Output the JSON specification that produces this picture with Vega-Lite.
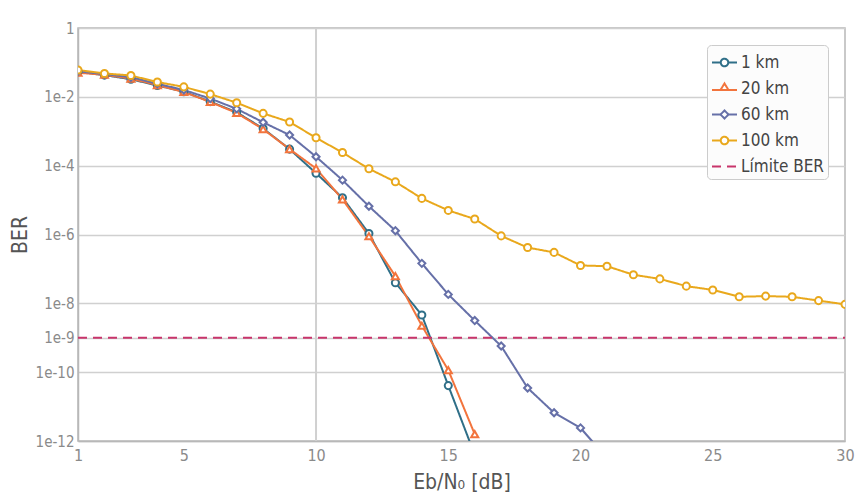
{
  "$schema": "https://vega.github.io/schema/vega-lite/v6.json",
  "width": 767,
  "height": 413,
  "autosize": {"type": "none"},
  "padding": {"left": 78, "top": 28, "right": 19, "bottom": 63},
  "background": "white",
  "config": {
    "font": "DejaVu Sans Condensed, Liberation Sans Narrow, sans-serif",
    "view": {"stroke": "#b8b8b8", "strokeWidth": 1.5},
    "axis": {
      "labelFont": "DejaVu Sans Condensed, Liberation Sans Narrow, sans-serif",
      "titleFont": "DejaVu Sans Condensed, Liberation Sans Narrow, sans-serif",
      "labelColor": "#8a8a8a",
      "titleColor": "#555555",
      "titleFontWeight": "normal",
      "domainColor": "#b8b8b8",
      "domainWidth": 1.5,
      "gridColor": "#d0d0d0",
      "gridWidth": 1.5,
      "ticks": false
    },
    "legend": {
      "labelFont": "DejaVu Sans Condensed, Liberation Sans Narrow, sans-serif"
    }
  },
  "data": {
    "values": [
      {"series": "1 km", "x": 1, "ber": 0.0537},
      {"series": "1 km", "x": 2, "ber": 0.0427},
      {"series": "1 km", "x": 3, "ber": 0.0324},
      {"series": "1 km", "x": 4, "ber": 0.0214},
      {"series": "1 km", "x": 5, "ber": 0.0141},
      {"series": "1 km", "x": 6, "ber": 0.00724},
      {"series": "1 km", "x": 7, "ber": 0.00355},
      {"series": "1 km", "x": 8, "ber": 0.0012},
      {"series": "1 km", "x": 9, "ber": 0.000302},
      {"series": "1 km", "x": 10, "ber": 6.03e-5},
      {"series": "1 km", "x": 11, "ber": 1.17e-5},
      {"series": "1 km", "x": 12, "ber": 1.07e-6},
      {"series": "1 km", "x": 13, "ber": 3.98e-8},
      {"series": "1 km", "x": 14, "ber": 4.57e-9},
      {"series": "1 km", "x": 15, "ber": 4.07e-11},
      {"series": "1 km", "x": 16, "ber": 3.98e-13},
      {"series": "20 km", "x": 1, "ber": 0.0501},
      {"series": "20 km", "x": 2, "ber": 0.0437},
      {"series": "20 km", "x": 3, "ber": 0.0339},
      {"series": "20 km", "x": 4, "ber": 0.0219},
      {"series": "20 km", "x": 5, "ber": 0.0138},
      {"series": "20 km", "x": 6, "ber": 0.00708},
      {"series": "20 km", "x": 7, "ber": 0.00339},
      {"series": "20 km", "x": 8, "ber": 0.00115},
      {"series": "20 km", "x": 9, "ber": 0.000302},
      {"series": "20 km", "x": 10, "ber": 8.32e-5},
      {"series": "20 km", "x": 11, "ber": 1.05e-5},
      {"series": "20 km", "x": 12, "ber": 8.91e-7},
      {"series": "20 km", "x": 13, "ber": 6.17e-8},
      {"series": "20 km", "x": 14, "ber": 2.24e-9},
      {"series": "20 km", "x": 15, "ber": 1.15e-10},
      {"series": "20 km", "x": 16, "ber": 1.58e-12},
      {"series": "60 km", "x": 1, "ber": 0.055},
      {"series": "60 km", "x": 2, "ber": 0.0457},
      {"series": "60 km", "x": 3, "ber": 0.0372},
      {"series": "60 km", "x": 4, "ber": 0.024},
      {"series": "60 km", "x": 5, "ber": 0.0158},
      {"series": "60 km", "x": 6, "ber": 0.00891},
      {"series": "60 km", "x": 7, "ber": 0.00447},
      {"series": "60 km", "x": 8, "ber": 0.00182},
      {"series": "60 km", "x": 9, "ber": 0.000776},
      {"series": "60 km", "x": 10, "ber": 0.000182},
      {"series": "60 km", "x": 11, "ber": 3.8e-5},
      {"series": "60 km", "x": 12, "ber": 6.61e-6},
      {"series": "60 km", "x": 13, "ber": 1.29e-6},
      {"series": "60 km", "x": 14, "ber": 1.45e-7},
      {"series": "60 km", "x": 15, "ber": 1.82e-8},
      {"series": "60 km", "x": 16, "ber": 3.16e-9},
      {"series": "60 km", "x": 17, "ber": 5.75e-10},
      {"series": "60 km", "x": 18, "ber": 3.47e-11},
      {"series": "60 km", "x": 19, "ber": 6.61e-12},
      {"series": "60 km", "x": 20, "ber": 2.4e-12},
      {"series": "60 km", "x": 21, "ber": 3.16e-13},
      {"series": "100 km", "x": 1, "ber": 0.0603},
      {"series": "100 km", "x": 2, "ber": 0.0479},
      {"series": "100 km", "x": 3, "ber": 0.0417},
      {"series": "100 km", "x": 4, "ber": 0.0269},
      {"series": "100 km", "x": 5, "ber": 0.0195},
      {"series": "100 km", "x": 6, "ber": 0.012},
      {"series": "100 km", "x": 7, "ber": 0.00676},
      {"series": "100 km", "x": 8, "ber": 0.00331},
      {"series": "100 km", "x": 9, "ber": 0.00186},
      {"series": "100 km", "x": 10, "ber": 0.000646},
      {"series": "100 km", "x": 11, "ber": 0.00024},
      {"series": "100 km", "x": 12, "ber": 8.13e-5},
      {"series": "100 km", "x": 13, "ber": 3.39e-5},
      {"series": "100 km", "x": 14, "ber": 1.12e-5},
      {"series": "100 km", "x": 15, "ber": 5.01e-6},
      {"series": "100 km", "x": 16, "ber": 2.82e-6},
      {"series": "100 km", "x": 17, "ber": 9.12e-7},
      {"series": "100 km", "x": 18, "ber": 4.17e-7},
      {"series": "100 km", "x": 19, "ber": 3.02e-7},
      {"series": "100 km", "x": 20, "ber": 1.26e-7},
      {"series": "100 km", "x": 21, "ber": 1.2e-7},
      {"series": "100 km", "x": 22, "ber": 6.76e-8},
      {"series": "100 km", "x": 23, "ber": 5.13e-8},
      {"series": "100 km", "x": 24, "ber": 3.16e-8},
      {"series": "100 km", "x": 25, "ber": 2.45e-8},
      {"series": "100 km", "x": 26, "ber": 1.55e-8},
      {"series": "100 km", "x": 27, "ber": 1.62e-8},
      {"series": "100 km", "x": 28, "ber": 1.55e-8},
      {"series": "100 km", "x": 29, "ber": 1.2e-8},
      {"series": "100 km", "x": 30, "ber": 9.33e-9},
      {"series": "Límite BER", "x": 1, "ber": 1e-9},
      {"series": "Límite BER", "x": 30, "ber": 1e-9}
    ]
  },
  "layer": [
    {
      "data": {"values": [{"x": 10}]},
      "mark": {"type": "rule", "color": "#d0d0d0", "strokeWidth": 2},
      "encoding": {
        "x": {"field": "x", "type": "quantitative", "scale": {"domain": [1, 30]}}
      }
    },
    {
      "mark": {"type": "line", "strokeWidth": 2, "clip": true},
      "encoding": {
        "x": {
          "field": "x", "type": "quantitative",
          "scale": {"domain": [1, 30], "nice": false},
          "axis": {
            "values": [1, 5, 10, 15, 20, 25, 30],
            "grid": false,
            "title": "Eb/N₀ [dB]",
            "titleFontSize": 21,
            "titlePadding": 8,
            "labelFontSize": 16,
            "labelPadding": 6,
            "labelFlush": false
          }
        },
        "y": {
          "field": "ber", "type": "quantitative",
          "scale": {"type": "log", "domain": [1e-12, 1], "nice": false},
          "axis": {
            "values": [1, 0.01, 0.0001, 1e-6, 1e-8, 1e-9, 1e-10, 1e-12],
            "labelExpr": "datum.value >= 0.5 ? '1' : '1e' + round(log(datum.value) / LN10)",
            "title": "BER",
            "titleFontSize": 21,
            "titlePadding": 5,
            "labelFontSize": 15,
            "labelPadding": 4,
            "grid": true
          }
        },
        "color": {
          "field": "series", "type": "nominal",
          "sort": ["1 km", "20 km", "60 km", "100 km", "Límite BER"],
          "scale": {
            "domain": ["1 km", "20 km", "60 km", "100 km", "Límite BER"],
            "range": ["#2f6f88", "#f2743d", "#6670a8", "#e9a81c", "#c8356b"]
          },
          "legend": {
            "title": null,
            "orient": "top-right",
            "offset": 17,
            "fillColor": "#fcfcfc",
            "strokeColor": "#cccccc",
            "cornerRadius": 4,
            "padding": 4,
            "rowPadding": 4,
            "symbolSize": 625,
            "symbolStrokeWidth": 2,
            "labelFontSize": 17,
            "labelColor": "#444444",
            "labelOffset": 3,
            "encode": {
              "symbols": {
                "update": {
                  "shape": {"signal": "datum.value == '20 km' ? 'M-1,0.12H1M-0.32,0.12L0,-0.4L0.32,0.12Z' : datum.value == '60 km' ? 'M-1,0H-0.32M0.32,0H1M-0.32,0L0,-0.32L0.32,0L0,0.32Z' : datum.value == 'Límite BER' ? 'M-1,0H1' : 'M-1,0H-0.3M0.3,0H1M-0.3,0A0.3,0.3,0,1,1,0.3,0A0.3,0.3,0,1,1,-0.3,0Z'"},
                  "strokeDash": {"signal": "datum.value == 'Límite BER' ? [5, 4] : [1, 0]"},
                  "fill": {"value": "white"},
                  "strokeWidth": {"value": 2}
                }
              }
            }
          }
        },
        "strokeDash": {
          "field": "series", "type": "nominal",
          "scale": {
            "domain": ["1 km", "20 km", "60 km", "100 km", "Límite BER"],
            "range": [[1, 0], [1, 0], [1, 0], [1, 0], [9, 6]]
          },
          "legend": null
        },
        "order": {"field": "x", "type": "quantitative"}
      }
    },
    {
      "transform": [{"filter": "datum.series != 'Límite BER'"}],
      "mark": {"type": "point", "filled": false, "fill": "white", "fillOpacity": 1, "strokeWidth": 2, "opacity": 1, "clip": true},
      "encoding": {
        "x": {"field": "x", "type": "quantitative"},
        "y": {"field": "ber", "type": "quantitative"},
        "color": {"field": "series", "type": "nominal"},
        "shape": {
          "field": "series", "type": "nominal",
          "scale": {
            "domain": ["1 km", "20 km", "60 km", "100 km"],
            "range": ["circle", "triangle-up", "diamond", "circle"]
          },
          "legend": null
        },
        "size": {"value": 50}
      }
    }
  ]
}
